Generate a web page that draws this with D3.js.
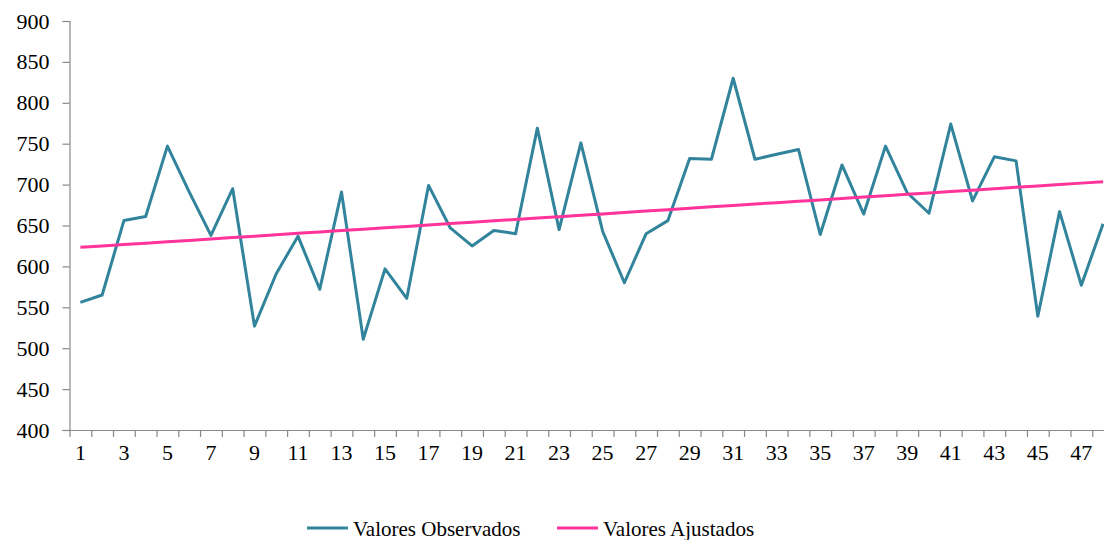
<!DOCTYPE html>
<html>
<head>
<meta charset="utf-8">
<script src="https://cdn.jsdelivr.net/npm/d3@7"></script>
<style>
  body { margin: 0; background: #fff; }
  svg { display: block; }
  svg text { font-family: "Liberation Serif", "Times New Roman", serif; }
</style>
</head>
<body>
<script>
// data
var periodos = d3.range(1, 49);
var observados = [556, 565, 656, 661, 747, 691, 638, 695, 527, 591,
                  637, 572, 691, 511, 597, 561, 699, 647, 625, 644,
                  640, 769, 645, 751, 643, 580, 640, 656, 732, 731,
                  830, 731, 737, 743, 639, 724, 664, 747, 690, 665,
                  774, 680, 734, 729, 539, 667, 577, 652];
var ajustados = [623.3, 625.0, 626.7, 628.4, 630.1, 631.8, 633.5, 635.2, 636.9, 638.7,
                 640.4, 642.1, 643.8, 645.5, 647.2, 648.9, 650.6, 652.3, 654.0, 655.7,
                 657.4, 659.1, 660.8, 662.5, 664.2, 665.9, 667.7, 669.4, 671.1, 672.8,
                 674.5, 676.2, 677.9, 679.6, 681.3, 683.0, 684.7, 686.4, 688.1, 689.8,
                 691.5, 693.2, 694.9, 696.7, 698.4, 700.1, 701.8, 703.5];
var yTicks = [400, 450, 500, 550, 600, 650, 700, 750, 800, 850, 900];
var xLabels = periodos.filter(function(d) { return d % 2 === 1; });

var width = 1104, height = 540;
var plotLeft = 69.5, plotTop = 21, plotBottom = 430;
var step = 21.76;

var svg = d3.select("body").append("svg")
    .attr("width", width)
    .attr("height", height);

var x = d3.scaleBand()
    .domain(periodos)
    .range([plotLeft, plotLeft + periodos.length * step]);

var y = d3.scaleLinear()
    .domain([400, 900])
    .range([plotBottom, plotTop]);

var axisColor = "#898989";

// y axis
var yAxis = svg.append("g")
    .attr("transform", "translate(" + plotLeft + ",0)")
    .call(d3.axisLeft(y).tickValues(yTicks).tickSize(7).tickPadding(13));
yAxis.attr("font-family", null).attr("font-size", null);
yAxis.select(".domain").attr("stroke", axisColor).attr("stroke-width", 1.2);
yAxis.selectAll(".tick line").attr("stroke", axisColor).attr("stroke-width", 1.2);
yAxis.selectAll(".tick text")
    .style("font-size", "22px")
    .attr("fill", "#000");

// x axis line + ticks at band edges
svg.append("line")
    .attr("x1", plotLeft).attr("x2", width)
    .attr("y1", plotBottom + 0.5).attr("y2", plotBottom + 0.5)
    .attr("stroke", axisColor).attr("stroke-width", 1.2);

svg.append("g").selectAll("line")
    .data(periodos)
    .enter()
    .append("line")
    .attr("x1", function(d) { return x(d) + 0.5; })
    .attr("x2", function(d) { return x(d) + 0.5; })
    .attr("y1", plotBottom)
    .attr("y2", plotBottom + 7)
    .attr("stroke", axisColor)
    .attr("stroke-width", 1.2);

var xAxis = svg.append("g")
    .attr("transform", "translate(0," + plotBottom + ")")
    .call(d3.axisBottom(x).tickValues(xLabels).tickSize(0).tickPadding(14));
xAxis.attr("font-family", null).attr("font-size", null);
xAxis.select(".domain").remove();
xAxis.selectAll(".tick text")
    .style("font-size", "22px")
    .attr("fill", "#000");

// lines
var cx = function(i) { return x(periodos[i]) + x.bandwidth() / 2; };

var line = d3.line()
    .x(function(d, i) { return cx(i); })
    .y(function(d) { return y(d); });

svg.append("path")
    .datum(observados)
    .attr("fill", "none")
    .attr("stroke", "#31849B")
    .attr("stroke-width", 3)
    .attr("stroke-linejoin", "round")
    .attr("d", line);

svg.append("path")
    .datum(ajustados)
    .attr("fill", "none")
    .attr("stroke", "#FF3399")
    .attr("stroke-width", 3)
    .attr("d", line);

// legend
var legend = [
  { name: "Valores Observados", color: "#31849B", x: 307 },
  { name: "Valores Ajustados", color: "#FF3399", x: 557 }
];
var lg = svg.append("g").selectAll("g")
    .data(legend)
    .enter()
    .append("g")
    .attr("transform", function(d) { return "translate(" + d.x + ",528)"; });

lg.append("line")
    .attr("x1", 0).attr("x2", 41)
    .attr("stroke", function(d) { return d.color; })
    .attr("stroke-width", 3);

lg.append("text")
    .attr("x", 46)
    .attr("y", 7.5)
    .style("font-size", "21px")
    .attr("fill", "#000")
    .text(function(d) { return d.name; });
</script>
</body>
</html>
